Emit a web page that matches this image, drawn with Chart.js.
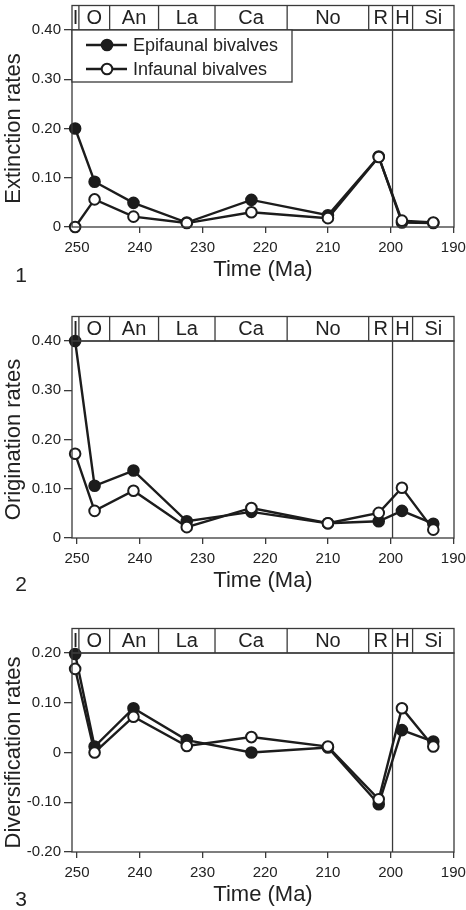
<!DOCTYPE html>
<html>
<head>
<meta charset="utf-8">
<title>Bivalve rates</title>
<script src="https://cdn.jsdelivr.net/npm/chart.js@4.4.0/dist/chart.umd.min.js"></script>
<style>
  html, body { margin: 0; padding: 0; background: #fff; overflow: hidden; }
  canvas { position: absolute; left: 0; }
</style>
</head>
<body>
<canvas id="ext-chart" width="466" height="289" style="top:0px"></canvas>
<canvas id="orig-chart" width="466" height="300" style="top:300px"></canvas>
<canvas id="div-chart" width="466" height="300" style="top:610px"></canvas>

<script>
// time points (Ma) for every interval
const ages = [250.3, 247.2, 241.0, 232.5, 222.2, 210.0, 201.9, 198.2, 193.2];

// panel 1 - extinction
const extinctionEpi = [0.200, 0.092, 0.049, 0.009, 0.055, 0.024, 0.143, 0.009, 0.008];
const extinctionInf = [0.000, 0.056, 0.021, 0.008, 0.030, 0.018, 0.142, 0.013, 0.009];
// panel 2 - origination
const originationEpi = [0.400, 0.106, 0.137, 0.034, 0.053, 0.030, 0.034, 0.055, 0.029];
const originationInf = [0.171, 0.055, 0.096, 0.022, 0.061, 0.030, 0.051, 0.102, 0.017];
// panel 3 - diversification
const diversificationEpi = [0.198, 0.012, 0.089, 0.025, 0.000, 0.010, -0.104, 0.045, 0.022];
const diversificationInf = [0.168, 0.000, 0.072, 0.013, 0.031, 0.012, -0.094, 0.089, 0.012];

// stage header
const stageNames = ['I', 'O', 'An', 'La', 'Ca', 'No', 'R', 'H', 'Si'];
const stageBounds = [250.8, 249.7, 244.8, 237.0, 228.0, 216.5, 203.5, 199.7, 196.5, 189.9];
const boundaryLine = 199.7; // Triassic / Jurassic

// tick labels
const timeTicks = [250, 240, 230, 220, 210, 200, 190];
const rateTicks = [0, 0.10, 0.20, 0.30, 0.40];
const divTicks = [-0.20, -0.10, 0, 0.10, 0.20];

const seriesNames = ['Epifaunal bivalves', 'Infaunal bivalves'];

const ink = '#1c1c1c';
const frameColor = '#3a3a3a';
const textColor = '#222';
Chart.defaults.font.family = "'Liberation Sans', Arial, sans-serif";
Chart.defaults.color = textColor;

// frame, stage boxes, T/J line, legend and panel number
const panelDecor = {
    id: 'panelDecor',
    beforeDatasetsDraw(chart) {
        const { ctx, chartArea: a, scales: { x } } = chart;
        const bx = x.getPixelForValue(boundaryLine);
        ctx.save();
        ctx.strokeStyle = frameColor;
        ctx.lineWidth = 1.3;
        ctx.beginPath();
        ctx.moveTo(bx, a.top);
        ctx.lineTo(bx, a.bottom);
        ctx.stroke();
        ctx.restore();
    },
    afterDraw(chart, args, opts) {
        const { ctx, chartArea: a, scales: { x } } = chart;
        ctx.save();
        ctx.strokeStyle = frameColor;
        ctx.lineWidth = 1.3;
        ctx.strokeRect(a.left, a.top, a.right - a.left, a.bottom - a.top);

        // stage header
        const hTop = a.top - 24.5;
        ctx.strokeRect(a.left, hTop, a.right - a.left, a.top - hTop);
        ctx.font = "20px 'Liberation Sans', Arial, sans-serif";
        ctx.fillStyle = textColor;
        ctx.textAlign = 'center';
        ctx.textBaseline = 'middle';
        for (let i = 0; i < stageNames.length; i++) {
            const x0 = x.getPixelForValue(stageBounds[i]);
            const x1 = x.getPixelForValue(stageBounds[i + 1]);
            if (i > 0) {
                ctx.beginPath();
                ctx.moveTo(x0, hTop);
                ctx.lineTo(x0, a.top);
                ctx.stroke();
            }
            ctx.fillText(stageNames[i], (x0 + x1) / 2, (hTop + a.top) / 2 + 1);
        }

        // legend (panel 1 only)
        if (opts.legend) {
            const lx = a.left, ly = a.top;
            ctx.fillStyle = '#fff';
            ctx.fillRect(lx, ly, 220, 52);
            ctx.strokeRect(lx, ly, 220, 52);
            ctx.font = "18px 'Liberation Sans', Arial, sans-serif";
            ctx.textAlign = 'left';
            chart.data.datasets.forEach((ds, i) => {
                const yy = ly + 15 + i * 24;
                ctx.strokeStyle = ds.borderColor;
                ctx.lineWidth = ds.borderWidth;
                ctx.beginPath();
                ctx.moveTo(lx + 14, yy);
                ctx.lineTo(lx + 55, yy);
                ctx.stroke();
                ctx.beginPath();
                ctx.arc(lx + 35, yy, ds.pointRadius, 0, Math.PI * 2);
                ctx.fillStyle = ds.pointBackgroundColor;
                ctx.fill();
                ctx.lineWidth = ds.pointBorderWidth;
                ctx.strokeStyle = ds.pointBorderColor;
                ctx.stroke();
                ctx.fillStyle = textColor;
                ctx.fillText(ds.label, lx + 61, yy + 1);
            });
        }

        // panel number
        ctx.font = "21px 'Liberation Sans', Arial, sans-serif";
        ctx.fillStyle = textColor;
        ctx.textAlign = 'center';
        ctx.textBaseline = 'middle';
        ctx.fillText(String(opts.panelNo), 21, opts.numberY);
        ctx.restore();
    }
};

function makeDataset(label, values, fill, order) {
    return {
        label,
        data: ages.map((a, i) => ({ x: a, y: values[i] })),
        borderColor: ink,
        borderWidth: 2.4,
        pointRadius: 5.3,
        pointBorderWidth: 2,
        pointBackgroundColor: fill,
        pointBorderColor: ink,
        tension: 0,
        clip: false,
        order
    };
}

function makeChart(id, cfg) {
    const ctx = document.getElementById(id).getContext('2d');
    return new Chart(ctx, {
        type: 'line',
        data: {
            datasets: [
                makeDataset(seriesNames[0], cfg.epi, ink, 2),
                makeDataset(seriesNames[1], cfg.inf, '#fff', 1)
            ]
        },
        options: {
            responsive: false,
            animation: false,
            layout: { padding: { top: cfg.padTop, right: 12, left: 0, bottom: 0 } },
            plugins: {
                legend: { display: false },
                tooltip: { enabled: false },
                panelDecor: { legend: cfg.legend, panelNo: cfg.panelNo, numberY: cfg.numberY }
            },
            scales: {
                x: {
                    type: 'linear',
                    reverse: true,
                    min: stageBounds[stageBounds.length - 1],
                    max: stageBounds[0],
                    afterBuildTicks: (s) => { s.ticks = timeTicks.map(v => ({ value: v })); },
                    afterFit: (s) => { s.height = cfg.xHeight; s.paddingLeft = 0; s.paddingRight = 0; },
                    ticks: { font: { size: 15 }, padding: 6, maxRotation: 0, color: textColor },
                    grid: { drawOnChartArea: false, tickLength: 6, color: frameColor, lineWidth: 1.3 },
                    border: { display: false },
                    title: {
                        display: true, text: 'Time (Ma)', color: textColor,
                        font: { size: 22 }, padding: { top: 0, bottom: cfg.xHeight - 56.2 }
                    }
                },
                y: {
                    min: cfg.yMin,
                    max: cfg.yMax,
                    afterBuildTicks: (s) => { s.ticks = cfg.yTicks.map(v => ({ value: v })); },
                    afterFit: (s) => { s.width = 72; s.paddingTop = 0; s.paddingBottom = 0; },
                    ticks: {
                        font: { size: 15 }, padding: 3, color: textColor,
                        callback: (v) => Math.abs(v) < 1e-9 ? '0' : v.toFixed(2)
                    },
                    grid: { drawOnChartArea: false, tickLength: 8, color: frameColor, lineWidth: 1.3 },
                    border: { display: false },
                    title: {
                        display: true, text: cfg.yTitle, color: textColor,
                        font: { size: 22 }, padding: { top: 1, bottom: 0 }
                    }
                }
            }
        },
        plugins: [panelDecor]
    });
}

makeChart('ext-chart', {
    epi: extinctionEpi, inf: extinctionInf, yTitle: 'Extinction rates',
    yMin: 0, yMax: 0.4, yTicks: rateTicks,
    padTop: 30, xHeight: 62, legend: true, panelNo: 1, numberY: 276
});
makeChart('orig-chart', {
    epi: originationEpi, inf: originationInf, yTitle: 'Origination rates',
    yMin: 0, yMax: 0.4, yTicks: rateTicks,
    padTop: 41, xHeight: 62, legend: false, panelNo: 2, numberY: 285
});
makeChart('div-chart', {
    epi: diversificationEpi, inf: diversificationInf, yTitle: 'Diversification rates',
    yMin: -0.2, yMax: 0.2, yTicks: divTicks,
    padTop: 43, xHeight: 58, legend: false, panelNo: 3, numberY: 290
});
</script>
</body>
</html>
